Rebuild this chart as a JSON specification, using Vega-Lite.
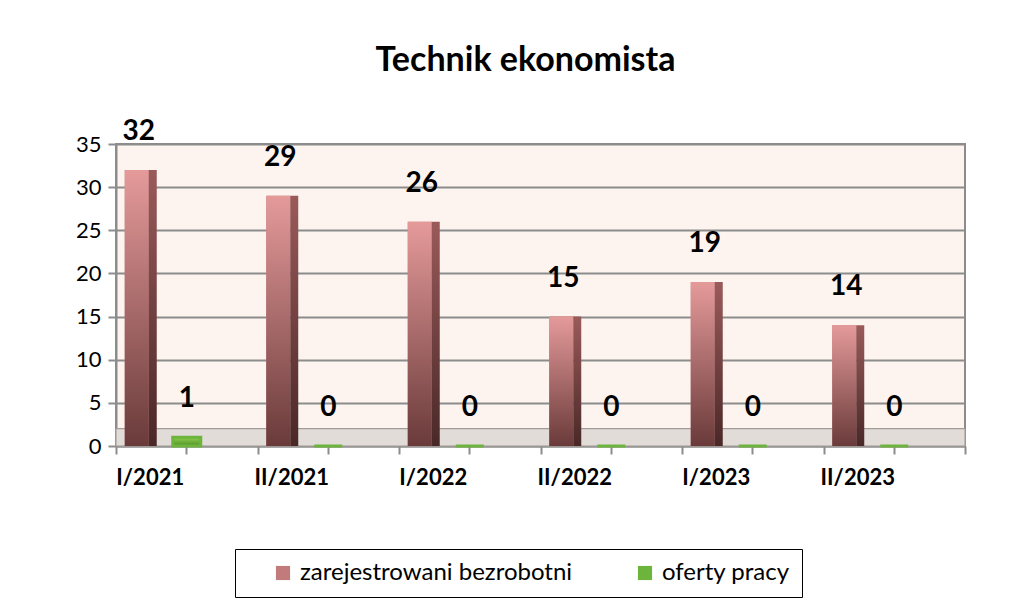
{
  "$schema": "https://vega.github.io/schema/vega-lite/v6.json",
  "width": 849,
  "height": 302,
  "autosize": "none",
  "padding": {"left": 116, "top": 144, "right": 53, "bottom": 162},
  "background": "white",
  "title": {"text": "Technik ekonomista", "font": "Lato", "fontSize": 34, "fontWeight": "bold", "color": "#000000", "frame": "group", "offset": 40, "dx": -15},
  "config": {
    "font": "Lato",
    "view": {"fill": "#fdf4ef", "stroke": "#8c8c8c", "strokeWidth": 2}
  },
  "data": {
    "values": [
      {"period": "I/2021", "series": "zarejestrowani bezrobotni", "value": 32},
      {"period": "I/2021", "series": "oferty pracy", "value": 1},
      {"period": "II/2021", "series": "zarejestrowani bezrobotni", "value": 29},
      {"period": "II/2021", "series": "oferty pracy", "value": 0},
      {"period": "I/2022", "series": "zarejestrowani bezrobotni", "value": 26},
      {"period": "I/2022", "series": "oferty pracy", "value": 0},
      {"period": "II/2022", "series": "zarejestrowani bezrobotni", "value": 15},
      {"period": "II/2022", "series": "oferty pracy", "value": 0},
      {"period": "I/2023", "series": "zarejestrowani bezrobotni", "value": 19},
      {"period": "I/2023", "series": "oferty pracy", "value": 0},
      {"period": "II/2023", "series": "zarejestrowani bezrobotni", "value": 14},
      {"period": "II/2023", "series": "oferty pracy", "value": 0}
    ]
  },
  "encoding": {
    "x": {"field": "period", "type": "nominal", "sort": null, "scale": {"paddingInner": 0, "paddingOuter": 0}, "axis": null},
    "y": {"field": "value", "type": "quantitative", "scale": {"domain": [0, 35]}, "axis": {"title": null, "values": [0, 5, 10, 15, 20, 25, 30, 35], "labelFontSize": 22, "labelColor": "#000000", "labelPadding": 7, "tickSize": 8, "tickColor": "#8c8c8c", "tickWidth": 2, "domainColor": "#8c8c8c", "domainWidth": 2, "grid": true, "gridColor": "#8c8c8c", "gridWidth": 2}}
  },
  "layer": [
    {
      "mark": {"type": "rect", "fill": "#e2dcd8", "stroke": "#9c9894", "strokeWidth": 1},
      "encoding": {
        "x": null,
        "y": {"datum": 0, "type": "quantitative", "axis": {"title": null, "values": [0, 5, 10, 15, 20, 25, 30, 35], "labelFontSize": 22, "labelColor": "#000000", "labelPadding": 7, "tickSize": 8, "tickColor": "#8c8c8c", "tickWidth": 2, "domainColor": "#8c8c8c", "domainWidth": 2, "grid": true, "gridColor": "#8c8c8c", "gridWidth": 2}},
        "y2": {"datum": 2}
      }
    },
    {
      "transform": [{"filter": "datum.series === 'zarejestrowani bezrobotni'"}],
      "mark": {"type": "bar", "width": 24, "xOffset": -50},
      "encoding": {
        "x": {"field": "period", "type": "nominal", "sort": null, "axis": {"orient": "bottom", "title": null, "labelAngle": 0, "labelFontSize": 22, "labelFontWeight": "bold", "labelColor": "#000000", "labelOffset": -37, "labelPadding": 13, "labelLimit": 0, "tickBand": "extent", "tickSize": 8, "tickColor": "#8c8c8c", "tickWidth": 2, "domainColor": "#8c8c8c", "domainWidth": 2, "grid": false}},
        "color": {"field": "series", "type": "nominal", "sort": ["zarejestrowani bezrobotni", "oferty pracy"], "scale": {"domain": ["zarejestrowani bezrobotni", "oferty pracy"], "range": ["#c27b7b", "#6db43c"]},
          "legend": {"orient": "none", "legendX": 119, "legendY": 405, "direction": "horizontal", "title": null, "fillColor": "white", "strokeColor": "#000000", "padding": 12, "labelFontSize": 24, "labelColor": "#000000", "labelFont": "Lato", "labelLimit": 0, "symbolType": "square", "symbolSize": 200, "symbolStrokeWidth": 0, "columnPadding": 36, "labelOffset": 5, "symbolOffset": 24}}
      }
    },
    {
      "transform": [{"filter": "datum.series === 'zarejestrowani bezrobotni'"}],
      "mark": {"type": "bar", "width": 24, "xOffset": -50, "fill": {"gradient": "linear", "x1": 0, "y1": 0, "x2": 0, "y2": 1, "stops": [{"offset": 0, "color": "#e59a9a"}, {"offset": 1, "color": "#6a3a3a"}]}}
    },
    {
      "transform": [{"filter": "datum.series === 'zarejestrowani bezrobotni'"}],
      "mark": {"type": "bar", "width": 8, "xOffset": -34, "fill": {"gradient": "linear", "x1": 0, "y1": 0, "x2": 0, "y2": 1, "stops": [{"offset": 0, "color": "#9a5a5a"}, {"offset": 1, "color": "#4a2828"}]}}
    },
    {
      "transform": [{"filter": "datum.series === 'oferty pracy'"}],
      "mark": {"type": "bar", "width": 28, "xOffset": 0},
      "encoding": {
        "color": {"field": "series", "type": "nominal", "sort": ["zarejestrowani bezrobotni", "oferty pracy"]}
      }
    },
    {
      "transform": [{"filter": "datum.series === 'oferty pracy'"}],
      "mark": {"type": "bar", "width": 28, "xOffset": 0, "stroke": "#6db43c", "strokeWidth": 3, "fill": {"gradient": "linear", "x1": 0, "y1": 0, "x2": 0, "y2": 1, "stops": [{"offset": 0, "color": "#8fd04f"}, {"offset": 1, "color": "#4e8f26"}]}}
    },
    {
      "transform": [{"filter": "datum.series === 'zarejestrowani bezrobotni'"}],
      "mark": {"type": "text", "baseline": "bottom", "dy": -24, "xOffset": -48, "fontSize": 28, "fontWeight": "bold", "color": "#000000", "font": "Lato"},
      "encoding": {
        "text": {"field": "value", "type": "quantitative"},
        "x": {"field": "period", "type": "nominal", "sort": null, "axis": {"orient": "bottom", "title": null, "labels": false, "domain": false, "tickBand": "center", "tickSize": 8, "tickColor": "#8c8c8c", "tickWidth": 2, "grid": false}}
      }
    },
    {
      "transform": [{"filter": "datum.series === 'oferty pracy'"}],
      "mark": {"type": "text", "baseline": "bottom", "dy": -24, "xOffset": 0, "fontSize": 28, "fontWeight": "bold", "color": "#000000", "font": "Lato"},
      "encoding": {
        "text": {"field": "value", "type": "quantitative"}
      }
    }
  ],
  "resolve": {"axis": {"x": "independent"}}
}
